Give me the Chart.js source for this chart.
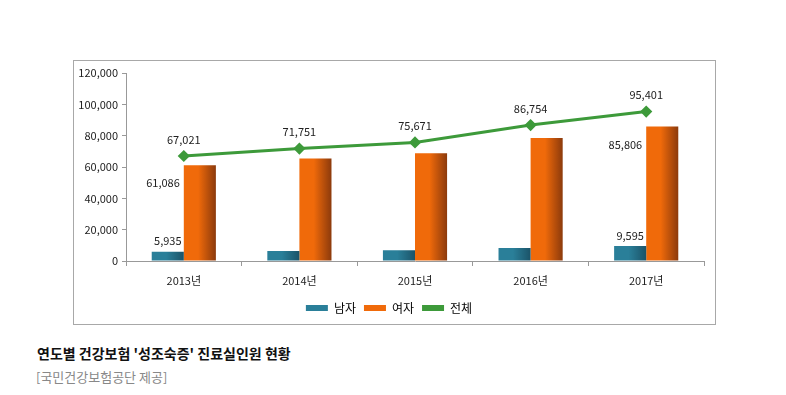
<!DOCTYPE html>
<html>
<head>
<meta charset="utf-8">
<script src="https://cdn.jsdelivr.net/npm/chart.js@4"></script>
<style>
  body { margin: 0; background: #fff; font-family: "Noto Sans CJK KR", sans-serif; }
  #box { position: absolute; left: 73px; top: 60px; width: 641px; height: 263px; border: 1px solid #a8a8a8; }
  #title { position: absolute; left: 37px; top: 343px; font-size: 14px; font-weight: bold; color: #111; }
  #source { position: absolute; left: 36px; top: 367px; font-size: 13px; color: #888; }
</style>
</head>
<body>
<div id="box"><canvas id="chart" width="641" height="263"></canvas></div>
<div id="title">연도별 건강보험 '성조숙증' 진료실인원 현황</div>
<div id="source">[국민건강보험공단 제공]</div>
<script>
const years = ['2013년', '2014년', '2015년', '2016년', '2017년'];
const male = [5935, 6400, 6830, 8300, 9595];
const female = [61086, 65351, 68840, 78454, 85806];
const total = [67021, 71751, 75671, 86754, 95401];
const yTicks = [0, 20000, 40000, 60000, 80000, 100000, 120000];

const fmt = v => v.toLocaleString('en-US');
const labelFont = '11px "Noto Sans CJK KR", sans-serif';
const barStops = [['#2a7f99', '#1b5368'], ['#f06a0a', '#8c3a0c']];

// horizontal gradient across each bar, like the original 3D-ish fill
function barFill(c) {
  const bar = c.element;
  const flat = barStops[c.datasetIndex][0];
  if (!bar || !bar.width) return flat;
  const left = bar.x - bar.width / 2;
  const g = c.chart.ctx.createLinearGradient(left, 0, left + bar.width, 0);
  g.addColorStop(0, barStops[c.datasetIndex][0]);
  g.addColorStop(0.45, barStops[c.datasetIndex][0]);
  g.addColorStop(1, barStops[c.datasetIndex][1]);
  return g;
}

// refresh the gradients once bar geometry is known
const barGradient = {
  id: 'barGradient',
  beforeDatasetsDraw(chart) {
    [0, 1].forEach(di => {
      chart.getDatasetMeta(di).data.forEach((bar, i) => {
        bar.options.backgroundColor = barFill({ element: bar, datasetIndex: di, chart });
      });
    });
  }
};

// value labels: first and last bar of each sex, every point of the total line
const valueLabels = {
  id: 'valueLabels',
  afterDatasetsDraw(chart) {
    const ctx = chart.ctx;
    ctx.save();
    ctx.font = labelFont;
    ctx.fillStyle = '#222';
    ctx.textAlign = 'center';
    ctx.textBaseline = 'bottom';
    const m = chart.getDatasetMeta(0).data;
    const f = chart.getDatasetMeta(1).data;
    const t = chart.getDatasetMeta(2).data;
    [0, male.length - 1].forEach(i => {
      ctx.fillText(fmt(male[i]), m[i].x, m[i].y - 5);
    });
    ctx.textAlign = 'right';
    ctx.textBaseline = 'middle';
    [0, female.length - 1].forEach(i => {
      ctx.fillText(fmt(female[i]), f[i].x - f[i].width / 2 - 4, f[i].y + 18);
    });
    ctx.textAlign = 'center';
    ctx.textBaseline = 'bottom';
    t.forEach((p, i) => ctx.fillText(fmt(total[i]), p.x, p.y - 11));
    ctx.restore();
  }
};

new Chart(document.getElementById('chart'), {
  type: 'bar',
  data: {
    labels: years,
    datasets: [
      { label: '남자', data: male, backgroundColor: barFill, categoryPercentage: 0.555, barPercentage: 1, order: 2 },
      { label: '여자', data: female, backgroundColor: barFill, categoryPercentage: 0.555, barPercentage: 1, order: 2 },
      { type: 'line', label: '전체', data: total, borderColor: '#3d9a3a', backgroundColor: '#3d9a3a',
        borderWidth: 3, pointStyle: 'rectRot', pointRadius: 4, pointBackgroundColor: '#3d9a3a', tension: 0, order: 1 }
    ]
  },
  options: {
    responsive: false,
    animation: false,
    layout: { padding: { top: 12, right: 11, left: 0, bottom: 0 } },
    plugins: {
      legend: {
        position: 'bottom',
        labels: {
          boxWidth: 22, boxHeight: 6, padding: 8, color: '#333',
          font: { size: 12, family: '"Noto Sans CJK KR", sans-serif' },
          sort: (a, b) => a.datasetIndex - b.datasetIndex,
          generateLabels: chart => chart.data.datasets.map((d, i) => ({
            text: d.label, datasetIndex: i, lineWidth: 0, hidden: false,
            fillStyle: i === 2 ? '#3d9a3a' : barStops[i][0], strokeStyle: 'transparent'
          }))
        }
      },
      tooltip: { enabled: false }
    },
    scales: {
      x: {
        grid: { display: true, drawOnChartArea: false, tickLength: 5, color: '#999' },
        border: { color: '#999' },
        ticks: { font: { size: 11, family: '"Noto Sans CJK KR", sans-serif' }, color: '#222', padding: 8 },
        afterFit: s => { s.height = 33; }
      },
      y: {
        min: 0, max: 120000,
        afterBuildTicks: s => { s.ticks = yTicks.map(v => ({ value: v })); },
        grid: { display: true, drawOnChartArea: false, tickLength: 4, color: '#999' },
        border: { color: '#999' },
        ticks: { font: { size: 11, family: '"Noto Sans CJK KR", sans-serif' }, color: '#222', padding: 4, callback: v => fmt(v) },
        afterFit: s => { s.width = 52; }
      }
    }
  },
  plugins: [barGradient, valueLabels]
});
</script>
</body>
</html>
